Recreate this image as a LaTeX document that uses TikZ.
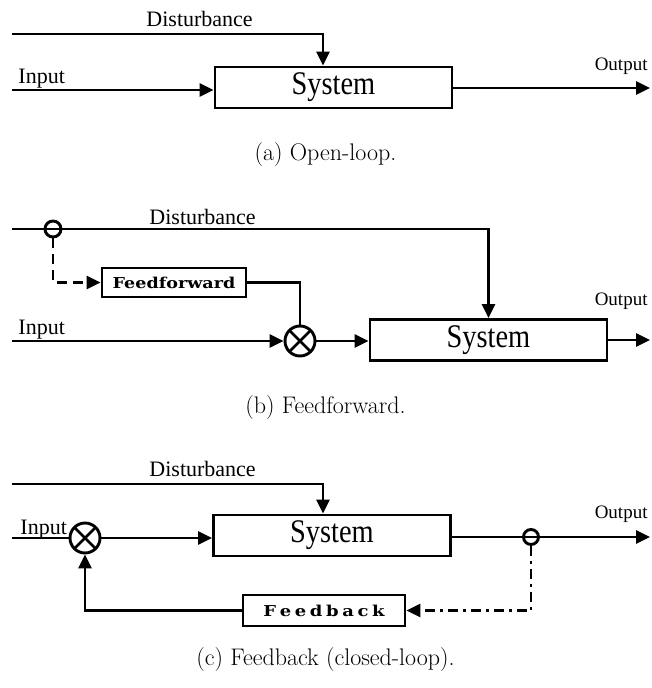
\documentclass[tikz,border=0pt]{standalone}
\usepackage{fontspec}
\newfontfamily\lab{Liberation Serif}
\newfontfamily\wide{DejaVu Serif}
\usetikzlibrary{arrows.meta}
\begin{document}
\begin{tikzpicture}[x=1pt,y=-1pt, line width=2.9pt,
  arr/.style={-{Triangle[length=14pt,width=13pt]}},
  sys/.style={draw, rectangle, minimum width=237pt, minimum height=41pt, inner sep=0pt,
    font=\lab\fontsize{33}{33}\selectfont},
  lbl/.style={inner sep=0pt, anchor=base west, font=\lab\fontsize{22}{22}\selectfont},
  lblo/.style={inner sep=0pt, anchor=base east, font=\lab\fontsize{19}{19}\selectfont},
  captxt/.style={inner sep=0pt, font=\fontsize{24}{24}\selectfont},
  sumnode/.style={draw, circle, minimum size=30pt, inner sep=0pt,
    path picture={\draw[line width=2.6pt] (path picture bounding box.north west) -- (path picture bounding box.south east)
      (path picture bounding box.north east) -- (path picture bounding box.south west);}},
  tapnode/.style={draw, circle, minimum size=16pt, inner sep=0pt},
  smallbox/.style={draw, rectangle, inner sep=0pt, font=\wide\bfseries\fontsize{15}{15}\selectfont},
  ffdash/.style={dash pattern=on 10pt off 6pt},
  fbdash/.style={dash pattern=on 10pt off 5pt on 3pt off 5pt}]
\useasboundingbox (0,0) rectangle (651,688);

% ---------- (a) open loop ----------
\node[sys] (sysA) at (333.5,87.5) {\scalebox{0.86}[1]{System}\hspace{18pt}};
\coordinate (dA0) at (12,34);
\coordinate (dA1) at (323,34);
\draw[arr] (dA0) -- (dA1) -- (dA1 |- sysA.north);
\coordinate (iA) at (12,90);
\draw[arr] (iA) -- (iA -| sysA.west);
\coordinate (oA) at (650,88);
\draw[arr] (sysA.east |- oA) -- (oA);
\node[lbl] (distA) at (145,27) {Disturbance};
\node[lbl] (inLA) at (17,83) {Input};
\node[lblo] (outLA) at (649,70) {Output};
\node[captxt] (capA) at (325.5,155) {(a) Open-loop.};

% ---------- (b) feedforward ----------
\node[sys] (sysB) at (488.5,340) {\scalebox{0.86}[1]{System}\hspace{18pt}};
\node[smallbox, minimum width=144pt, minimum height=29pt] (ff) at (174,282.5) {\scalebox{1.17}[1]{Feedforward}};
\node[sumnode] (sumB) at (300,341) {};
\node[tapnode] (tapB) at (53,229) {};
\coordinate (dB0) at (12,229);
\draw[arr] (dB0) -- (sysB.north |- dB0) -- (sysB.north);
\draw[arr, ffdash] (tapB.south) -- (tapB.south |- ff.west) -- (ff.west);
\draw (ff.east) -- (sumB.north |- ff.east) -- (sumB.north);
\coordinate (iB) at (12,341);
\draw[arr] (iB) -- (sumB.west);
\draw[arr] (sumB.east) -- (sumB.east -| sysB.west);
\coordinate (oB) at (650,340);
\draw[arr] (sysB.east |- oB) -- (oB);
\node[lbl] (distB) at (148,224) {Disturbance};
\node[lbl] (inLB) at (17,334) {Input};
\node[lblo] (outLB) at (649,305) {Output};
\node[captxt] (capB) at (325.5,408) {(b) Feedforward.};

% ---------- (c) feedback ----------
\node[sys] (sysC) at (332,535.5) {\scalebox{0.86}[1]{System}\hspace{18pt}};
\node[sumnode] (sumC) at (85,538) {};
\node[smallbox, minimum width=162pt, minimum height=31pt] (fb) at (324,610.5)
  {\scalebox{1.2}[1]{F\kern3pt e\kern3pt e\kern3pt d\kern3pt b\kern3pt a\kern3pt c\kern3pt k}};
\node[tapnode, minimum size=15pt] (tapC) at (531,537) {};
\coordinate (dC0) at (12,484);
\coordinate (dC1) at (323,484);
\draw[arr] (dC0) -- (dC1) -- (dC1 |- sysC.north);
\coordinate (iC) at (12,538);
\draw (iC) -- (sumC.west);
\draw[arr] (sumC.east) -- (sumC.east -| sysC.west);
\coordinate (oC) at (650,537);
\draw[arr] (sysC.east |- oC) -- (oC);
\draw[arr, fbdash] (tapC.south) -- (tapC.south |- fb.east) -- (fb.east);
\draw[arr] (fb.west) -- (fb.west -| sumC.south) -- (sumC.south);
\node[lbl] (distC) at (148,476) {Disturbance};
\node[lbl] (inLC) at (19,534) {Input};
\node[lblo] (outLC) at (649,518) {Output};
\node[captxt] (capC) at (325.5,660) {(c) Feedback (closed-loop).};
\end{tikzpicture}
\end{document}
